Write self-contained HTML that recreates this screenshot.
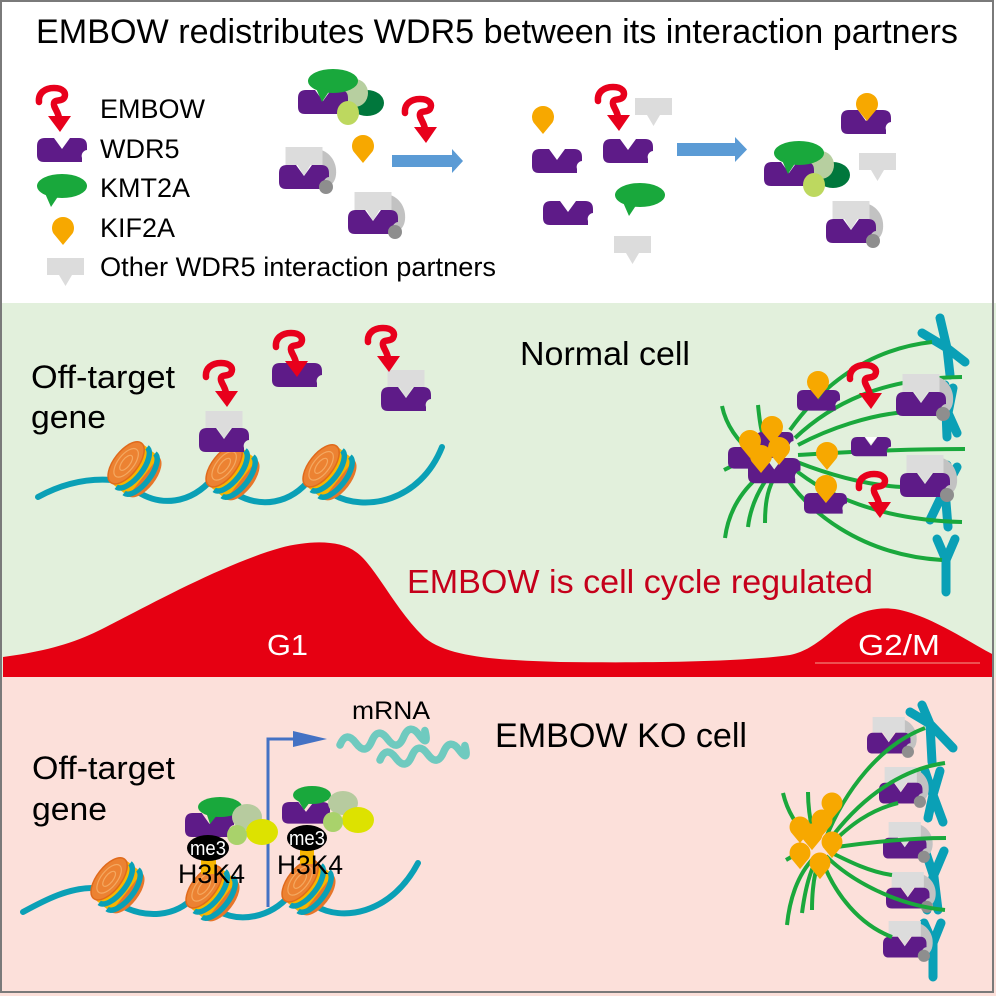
<!DOCTYPE html>
<html><head><meta charset="utf-8">
<style>
html,body{margin:0;padding:0;background:#fff;}
svg{display:block;}
text{font-family:"Liberation Sans",Arial,sans-serif;}
</style></head>
<body>
<svg width="996" height="996" viewBox="0 0 996 996" xmlns="http://www.w3.org/2000/svg" xmlns:xlink="http://www.w3.org/1999/xlink">
<defs>
 <path id="w5" d="M8 0H17L25 11L33 0H42Q50 0 50 8V12A6 6 0 0 0 45 20V24H7Q0 24 0 17V8Q0 0 8 0Z" fill="#5e1b88"/>
 <g id="emb">
  <path d="M3 15C2 6 9 1 18 1C27 1 31 6 28 11C25 15 19 12 18 16C17 20 22 24 23 31" fill="none" stroke="#e8001c" stroke-width="6.5" stroke-linecap="round" stroke-linejoin="round"/>
  <polygon points="12,29 35,29 24,45" fill="#e8001c"/>
 </g>
 <g id="kmt"><ellipse cx="0" cy="0" rx="25" ry="12" fill="#19a83c"/><polygon points="-18,5 -3,9 -11,21" fill="#19a83c"/></g>
 <path id="kif" d="M0 17L-9.5 5.5A11 11 0 1 1 9.5 5.5Z" fill="#f7a800"/>
 <path id="oth" d="M0 0H37V17H25L18.5 28L12 17H0Z" fill="#dcdcdc"/>
 <g id="gcx">
  <path d="M36 2C48 2 56 12 57 22C58 32 54 38 48 40L40 30Z" fill="#c2c2c2"/>
  <use xlink:href="#w5" href="#w5" x="0" y="18"/>
  <path d="M6.5 0H43.5V18H31.5L25 29L18.5 18H6.5Z" fill="#dcdcdc"/>
  <circle cx="47" cy="40" r="7" fill="#8e8e8e"/>
 </g>
 <g id="kcx">
  <ellipse cx="69" cy="34" rx="17" ry="13" fill="#00773c"/>
  <ellipse cx="57" cy="24" rx="13" ry="14" fill="#b7cfa0"/>
  <use xlink:href="#w5" href="#w5" x="0" y="21"/>
  <use xlink:href="#kmt" href="#kmt" x="35" y="12"/>
  <ellipse cx="50" cy="44" rx="11" ry="12" fill="#bdd85f"/>
 </g>
 <g id="nuc">
  <ellipse cx="12" cy="0" rx="12" ry="25" fill="#e6762a"/>
  <rect x="-10" y="-25" width="22" height="50" fill="#e6762a"/>
  <rect x="-6" y="-25" width="18" height="50" fill="#f7b500"/>
  <path d="M-3 -25A11 25 0 0 1 -3 25M7 -25A11 25 0 0 1 7 25" fill="none" stroke="#0aa0b6" stroke-width="5.5"/>
  <ellipse cx="-10" cy="0" rx="12" ry="25" fill="#ec8232" stroke="#e06a1c" stroke-width="1.5"/>
  <ellipse cx="-10" cy="0" rx="8" ry="17" fill="none" stroke="#f4a860" stroke-width="1.2"/>
  <ellipse cx="-10" cy="0" rx="4" ry="9" fill="none" stroke="#f4a860" stroke-width="1.2"/>
 </g>
</defs>

<!-- backgrounds -->
<rect x="0" y="0" width="996" height="996" fill="#fff"/>
<rect x="0" y="303" width="996" height="374" fill="#e2f0dc"/>
<rect x="0" y="677" width="996" height="319" fill="#fce0da"/>

<!-- ===== TOP SECTION ===== -->
<text x="36" y="43" font-size="34" fill="#000" textLength="922" lengthAdjust="spacingAndGlyphs">EMBOW redistributes WDR5 between its interaction partners</text>

<!-- legend -->
<use xlink:href="#emb" href="#emb" x="36" y="87"/>
<use xlink:href="#w5" href="#w5" x="37" y="138"/>
<use xlink:href="#kmt" href="#kmt" x="62" y="186"/>
<use xlink:href="#kif" href="#kif" x="63" y="228"/>
<use xlink:href="#oth" href="#oth" x="47" y="258"/>
<text x="100" y="118" font-size="27">EMBOW</text>
<text x="100" y="158" font-size="27">WDR5</text>
<text x="100" y="197" font-size="27">KMT2A</text>
<text x="100" y="237" font-size="27">KIF2A</text>
<text x="100" y="276" font-size="27" textLength="396" lengthAdjust="spacingAndGlyphs">Other WDR5 interaction partners</text>

<!-- group 1 -->
<use xlink:href="#kcx" href="#kcx" x="298" y="69"/>
<use xlink:href="#kif" href="#kif" x="363" y="146"/>
<use xlink:href="#gcx" href="#gcx" x="279" y="147"/>
<use xlink:href="#gcx" href="#gcx" x="348" y="192"/>
<use xlink:href="#emb" href="#emb" x="402" y="98"/>
<path d="M392 155H452V149L463 161L452 173V167H392Z" fill="#5b9bd5"/>

<!-- group 2 -->
<use xlink:href="#kif" href="#kif" x="543" y="117"/>
<use xlink:href="#w5" href="#w5" x="532" y="149"/>
<use xlink:href="#oth" href="#oth" x="635" y="98"/>
<use xlink:href="#emb" href="#emb" x="595" y="86"/>
<use xlink:href="#w5" href="#w5" x="603" y="139"/>
<use xlink:href="#w5" href="#w5" x="543" y="201"/>
<use xlink:href="#kmt" href="#kmt" x="640" y="195"/>
<use xlink:href="#oth" href="#oth" x="614" y="236"/>
<path d="M677 143H735V137L747 149.5L735 162V156H677Z" fill="#5b9bd5"/>

<!-- group 3 -->
<use xlink:href="#kcx" href="#kcx" x="764" y="141"/>
<use xlink:href="#w5" href="#w5" x="841" y="110"/>
<use xlink:href="#kif" href="#kif" x="867" y="104"/>
<use xlink:href="#oth" href="#oth" x="859" y="153"/>
<use xlink:href="#gcx" href="#gcx" x="826" y="201"/>

<!-- ===== MIDDLE SECTION ===== -->
<text x="31" y="388" font-size="32" textLength="144" lengthAdjust="spacingAndGlyphs">Off-target</text>
<text x="31" y="428" font-size="32" textLength="75" lengthAdjust="spacingAndGlyphs">gene</text>
<text x="520" y="365" font-size="33" textLength="170" lengthAdjust="spacingAndGlyphs">Normal cell</text>

<!-- DNA middle -->
<g fill="none" stroke="#0aa0b6" stroke-width="6" stroke-linecap="round">
 <path d="M38 497C60 485 85 478 112 480"/>
 <path d="M138 492C160 506 190 505 213 478"/>
 <path d="M236 494C260 508 290 505 311 478"/>
 <path d="M334 495C365 512 420 502 442 447"/>
</g>
<use xlink:href="#nuc" href="#nuc" transform="translate(134,469) rotate(38)"/>
<use xlink:href="#nuc" href="#nuc" transform="translate(232,472) rotate(38)"/>
<use xlink:href="#nuc" href="#nuc" transform="translate(329,472) rotate(38)"/>

<use xlink:href="#w5" href="#w5" x="199" y="428"/>
<use xlink:href="#oth" href="#oth" x="205.5" y="411"/>
<use xlink:href="#emb" href="#emb" x="203" y="362"/>
<use xlink:href="#w5" href="#w5" x="272" y="363"/>
<use xlink:href="#emb" href="#emb" x="273" y="332"/>
<use xlink:href="#w5" href="#w5" x="381" y="387"/>
<use xlink:href="#oth" href="#oth" x="387.5" y="370"/>
<use xlink:href="#emb" href="#emb" x="365" y="327"/>

<!-- spindle middle: chromosomes -->
<g fill="none" stroke="#0aa0b6" stroke-width="9" stroke-linecap="round" stroke-linejoin="round">
 <path d="M922 333L947 348L965 362M940 318L947 348L950 375"/>
 <path d="M945 385L947 437M953 388L948 413L957 433"/>
 <path d="M957 467L943 493L930 520M947 465L945 490L948 527"/>
 <path d="M937 539L946 560L955 539M946 560L946 592"/>
</g>
<!-- MTs -->
<g fill="none" stroke="#1aa83c" stroke-width="4" stroke-linecap="butt">
 <path d="M790 430C815 395 860 350 932 342"/>
 <path d="M795 438C830 405 880 378 962 377"/>
 <path d="M798 445C830 428 870 415 905 412"/>
 <path d="M798 455C850 452 900 449 965 449"/>
 <path d="M797 462C830 475 865 485 902 487"/>
 <path d="M793 468C825 495 880 520 962 522"/>
 <path d="M783 472C805 510 860 555 942 560"/>
 <path d="M722 406C726 425 738 442 752 452"/>
 <path d="M758 405C759 415 760 425 762 432"/>
 <path d="M725 538C728 515 738 495 757 478"/>
 <path d="M748 527C750 510 756 495 766 480"/>
 <path d="M765 523C765 505 767 492 773 480"/>
 <path d="M724 470L736 464"/>
</g>
<!-- cluster -->
<use xlink:href="#w5" href="#w5" transform="translate(756,432) scale(0.75)"/>
<use xlink:href="#w5" href="#w5" transform="translate(728,447) scale(0.9)"/>
<use xlink:href="#w5" href="#w5" transform="translate(748,458) scale(1.05)"/>
<use xlink:href="#kif" href="#kif" x="772" y="427"/>
<use xlink:href="#kif" href="#kif" x="750" y="441"/>
<use xlink:href="#kif" href="#kif" x="779" y="448"/>
<use xlink:href="#kif" href="#kif" x="761" y="456"/>
<!-- spindle complexes -->
<use xlink:href="#w5" href="#w5" transform="translate(797,390) scale(0.86)"/>
<use xlink:href="#kif" href="#kif" x="818" y="382"/>
<use xlink:href="#emb" href="#emb" x="847" y="364"/>
<use xlink:href="#gcx" href="#gcx" x="896" y="374"/>
<use xlink:href="#w5" href="#w5" transform="translate(851,437) scale(0.8)"/>
<polygon points="865,437 871,444 877,437" fill="#ffffff"/>
<use xlink:href="#kif" href="#kif" x="827" y="453"/>
<use xlink:href="#gcx" href="#gcx" x="900" y="455"/>
<use xlink:href="#w5" href="#w5" transform="translate(804,493) scale(0.86)"/>
<use xlink:href="#kif" href="#kif" x="826" y="486"/>
<use xlink:href="#emb" href="#emb" x="856" y="473"/>

<!-- red curve -->
<path d="M3 657C40 652 70 645 100 630C140 610 220 565 280 548C310 540 340 540 356 552C375 565 395 610 425 638C450 658 500 660 560 662C650 663 740 662 790 655C815 650 830 630 850 618C865 610 880 607 895 609C930 615 965 640 994 655L994 677L3 677Z" fill="#e60012"/>
<line x1="815" y1="663" x2="980" y2="663" stroke="#f4a090" stroke-width="1"/>
<text x="407" y="593" font-size="33" fill="#c5001b" textLength="466" lengthAdjust="spacingAndGlyphs">EMBOW is cell cycle regulated</text>
<text x="267" y="655" font-size="29" fill="#fff" textLength="41" lengthAdjust="spacingAndGlyphs">G1</text>
<text x="858" y="655" font-size="29" fill="#fff" textLength="82" lengthAdjust="spacingAndGlyphs">G2/M</text>

<!-- ===== BOTTOM SECTION ===== -->
<text x="32" y="779" font-size="32" textLength="143" lengthAdjust="spacingAndGlyphs">Off-target</text>
<text x="32" y="820" font-size="32" textLength="75" lengthAdjust="spacingAndGlyphs">gene</text>
<text x="495" y="747" font-size="34" textLength="252" lengthAdjust="spacingAndGlyphs">EMBOW KO cell</text>
<text x="352" y="719" font-size="25" textLength="78" lengthAdjust="spacingAndGlyphs">mRNA</text>

<!-- mRNA waves -->
<g fill="none" stroke="#6fcabf" stroke-width="7.5" stroke-linecap="round">
 <path transform="rotate(-7 340 745)" d="M340 745Q348 731 356 745T372 745T388 745T404 745T420 745T426 741"/>
 <path transform="rotate(-7 380 760)" d="M380 760Q388 746 396 760T412 760T428 760T444 760T460 760T466 756"/>
</g>

<!-- TSS arrow -->
<path d="M268 907V739H295" fill="none" stroke="#4472c4" stroke-width="3"/>
<polygon points="293,731 327,739 293,747" fill="#4472c4"/>

<!-- DNA bottom -->
<g fill="none" stroke="#0aa0b6" stroke-width="6" stroke-linecap="round">
 <path d="M23 912C45 900 70 887 95 888"/>
 <path d="M122 906C145 918 175 918 195 896"/>
 <path d="M218 911C240 923 270 918 290 895"/>
 <path d="M316 906C340 921 390 916 418 863"/>
</g>
<use xlink:href="#nuc" href="#nuc" transform="translate(117,885) rotate(38)"/>
<use xlink:href="#nuc" href="#nuc" transform="translate(212,893) rotate(38)"/>
<use xlink:href="#nuc" href="#nuc" transform="translate(308,887) rotate(38)"/>

<!-- complex bottom 1 -->
<rect x="201" y="852" width="15" height="22" fill="#f7b500"/>
<use xlink:href="#w5" href="#w5" transform="translate(185,813) scale(0.98,1)"/>
<ellipse cx="220" cy="807" rx="22" ry="10" fill="#19a83c"/>
<polygon points="206,812 218,814 210,824" fill="#19a83c"/>
<ellipse cx="247" cy="817" rx="15" ry="13" fill="#b7cb9f"/>
<ellipse cx="262" cy="832" rx="16" ry="13" fill="#dde200"/>
<ellipse cx="237" cy="835" rx="10" ry="10" fill="#a9d26b"/>
<ellipse cx="208" cy="848" rx="21" ry="13" fill="#000"/>
<text x="208" y="855" font-size="20" fill="#fff" text-anchor="middle" textLength="36" lengthAdjust="spacingAndGlyphs">me3</text>
<text x="178" y="883" font-size="27" fill="#000" textLength="67" lengthAdjust="spacingAndGlyphs">H3K4</text>

<!-- complex bottom 2 -->
<rect x="300" y="842" width="14" height="22" fill="#f7b500"/>
<use xlink:href="#w5" href="#w5" transform="translate(282,802) scale(0.96,0.9)"/>
<ellipse cx="312" cy="795" rx="19" ry="9" fill="#19a83c"/>
<polygon points="298,800 310,802 304,810" fill="#19a83c"/>
<ellipse cx="343" cy="803" rx="15" ry="12" fill="#b7cb9f"/>
<ellipse cx="358" cy="820" rx="16" ry="13" fill="#dde200"/>
<ellipse cx="333" cy="822" rx="10" ry="10" fill="#a9d26b"/>
<ellipse cx="307" cy="838" rx="20" ry="13" fill="#000"/>
<text x="307" y="845" font-size="20" fill="#fff" text-anchor="middle" textLength="36" lengthAdjust="spacingAndGlyphs">me3</text>
<text x="277" y="874" font-size="27" fill="#000" textLength="66" lengthAdjust="spacingAndGlyphs">H3K4</text>

<!-- bottom spindle: chromosomes -->
<g fill="none" stroke="#0aa0b6" stroke-width="9" stroke-linecap="round" stroke-linejoin="round">
 <path d="M910 712L930 724L953 748M922 705L930 724L932 762"/>
 <path d="M925 771L933 795L943 822M940 771L933 795L928 818"/>
 <path d="M944 851L933 877L927 910M926 853L934 877L938 910"/>
 <path d="M924 923L933 943L941 923M933 943L933 977"/>
</g>
<!-- complexes -->
<use xlink:href="#gcx" href="#gcx" transform="translate(867,717) scale(0.87)"/>
<use xlink:href="#gcx" href="#gcx" transform="translate(879,767) scale(0.87)"/>
<use xlink:href="#gcx" href="#gcx" transform="translate(883,822) scale(0.87)"/>
<use xlink:href="#gcx" href="#gcx" transform="translate(886,872) scale(0.87)"/>
<use xlink:href="#gcx" href="#gcx" transform="translate(883,921) scale(0.87)"/>
<!-- MTs -->
<g fill="none" stroke="#1aa83c" stroke-width="4">
 <path d="M825 840C845 790 880 745 925 728"/>
 <path d="M828 842C855 805 895 770 945 763"/>
 <path d="M830 845C850 825 870 810 898 803"/>
 <path d="M830 848C870 842 910 838 946 838"/>
 <path d="M830 852C850 862 870 872 892 875"/>
 <path d="M826 856C850 880 895 905 945 910"/>
 <path d="M822 860C835 895 860 925 892 937"/>
 <path d="M783 793C787 810 795 825 810 838"/>
 <path d="M808 792C808 805 810 820 813 833"/>
 <path d="M787 925C790 895 800 870 817 855"/>
 <path d="M802 913C805 890 810 870 818 857"/>
 <path d="M812 910C812 888 815 870 820 858"/>
 <path d="M786 860L800 852"/>
</g>
<!-- drops -->
<g>
 <use xlink:href="#kif" href="#kif" transform="translate(832,803) scale(0.95)"/>
 <use xlink:href="#kif" href="#kif" transform="translate(822,820) scale(0.95)"/>
 <use xlink:href="#kif" href="#kif" transform="translate(800,827) scale(0.95)"/>
 <use xlink:href="#kif" href="#kif" transform="translate(812,834) scale(0.95)"/>
 <use xlink:href="#kif" href="#kif" transform="translate(832,842) scale(0.95)"/>
 <use xlink:href="#kif" href="#kif" transform="translate(800,853) scale(0.95)"/>
 <use xlink:href="#kif" href="#kif" transform="translate(820,863) scale(0.95)"/>
</g>

<!-- border -->
<rect x="1" y="1" width="992" height="991" fill="none" stroke="#7a7a7a" stroke-width="2"/>
</svg>
</body></html>
